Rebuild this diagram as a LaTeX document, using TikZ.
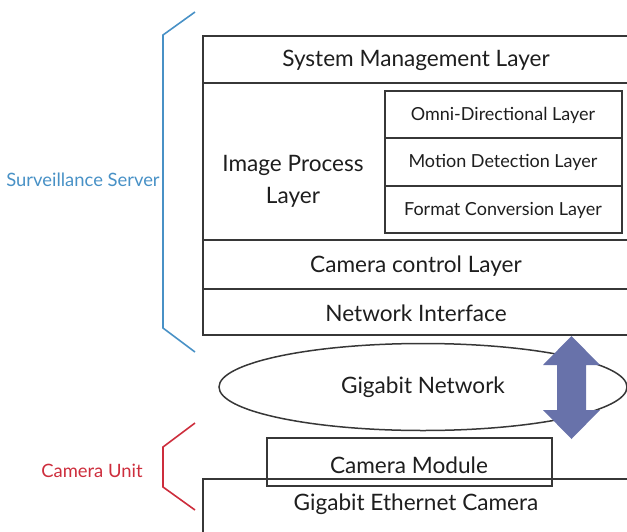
\documentclass[tikz,border=0pt]{standalone}
\usepackage{fontspec}
\setmainfont{Lato}
\usetikzlibrary{shapes.geometric}
\definecolor{srvblue}{RGB}{72,145,198}
\definecolor{camred}{RGB}{205,45,60}
\definecolor{arrowblue}{RGB}{104,114,170}
\definecolor{linegray}{RGB}{55,55,55}
\definecolor{textgray}{RGB}{30,30,30}
\tikzset{
  layer/.style={text=textgray,font=\fontsize{11.3}{16}\selectfont},
  sublayer/.style={text=textgray,font=\fontsize{9}{10}\selectfont},
  tag/.style={font=\fontsize{9.2}{11}\selectfont},
  frame/.style={draw=linegray,line width=0.75pt}
}

\begin{document}
\begin{tikzpicture}[x=0.5pt,y=-0.5pt]
\useasboundingbox (0,0) rectangle (627,531);
\clip (0,0) rectangle (627,531);
% server stack
\draw [frame] (203,36) rectangle (640,335);
\draw [frame] (203,83)--(640,83);
\draw [frame] (203,240)--(640,240);
\draw [frame] (203,289)--(640,289);
\draw [frame] (385,91) rectangle (622,233);
\draw [frame] (385,138)--(622,138);
\draw [frame] (385,186)--(622,186);
\node [layer] (sysmgmt) at (416,60) {System Management Layer};
\node [layer,align=center] (imgproc) at (293,181) {Image Process\\Layer};
\node [sublayer] (omni) at (503,115) {Omni-Directional Layer};
\node [sublayer] (motion) at (503,162) {Motion Detection Layer};
\node [sublayer] (format) at (503,210) {Format Conversion Layer};
\node [layer] (camctrl) at (416,266) {Camera control Layer};
\node [layer] (netif) at (416,313) {Network Interface};
% network
\node [frame,ellipse,minimum width=204pt,minimum height=43.5pt,layer] (gignet) at (423,387) {Gigabit Network};
\fill [arrowblue] (571.5,336)--(600,365)--(586,365)--(586,410)--(600,410)--(571.5,439)--(543,410)--(557,410)--(557,365)--(543,365)--cycle;
% camera unit
\draw [frame] (203,479) rectangle (640,560);
\draw [frame] (267,438) rectangle (552,486);
\node [layer] (cammod) at (409,465) {Camera Module};
\node [layer] (gigecam) at (416,504) {Gigabit Ethernet Camera};
% brackets
\draw [srvblue,line width=0.8pt] (195,12)--(163,35)--(163,328)--(195,352);
\draw [camred,line width=0.8pt] (195,423)--(163,447)--(163,487)--(195,510);
\node [tag,text=srvblue] (server) at (83,180) {Surveillance Server};
\node [tag,text=camred] (camunit) at (92,471) {Camera Unit};
\end{tikzpicture}
\end{document}
